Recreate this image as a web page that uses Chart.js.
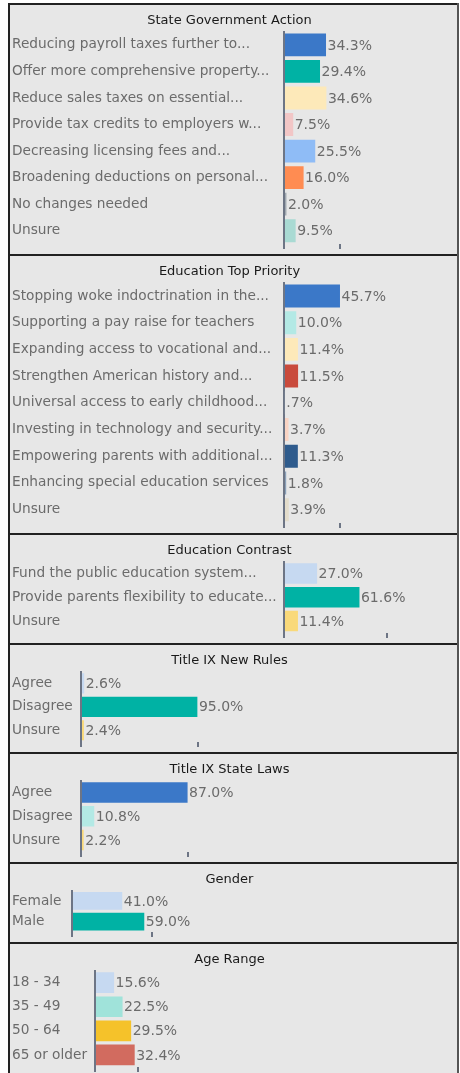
<!DOCTYPE html>
<html>
<head>
<meta charset="utf-8">
<script src="https://cdn.jsdelivr.net/npm/chart.js@4"></script>
<style>
  body { margin: 0; background: #fff; }
  #wrap { position: absolute; left: 8px; top: 3px; width: 447px; border-left: 2px solid #222; border-right: 2px solid #555; }
  .panel { border-top: 2px solid #222; background: #e7e7e7; overflow: hidden; }
  .panel canvas { display: block; }
</style>
</head>
<body>
<div id="wrap">
  <div class="panel" style="height:249px"><canvas id="c1" width="447" height="249"></canvas></div>
  <div class="panel" style="height:277px"><canvas id="c2" width="447" height="277"></canvas></div>
  <div class="panel" style="height:108px"><canvas id="c3" width="447" height="108"></canvas></div>
  <div class="panel" style="height:107px"><canvas id="c4" width="447" height="107"></canvas></div>
  <div class="panel" style="height:108px"><canvas id="c5" width="447" height="108"></canvas></div>
  <div class="panel" style="height:78px"><canvas id="c6" width="447" height="78"></canvas></div>
  <div class="panel" style="height:140px"><canvas id="c7" width="447" height="133"></canvas></div>
</div>
<script>
// data
const stateActionLabels = [
  "Reducing payroll taxes further to...",
  "Offer more comprehensive property...",
  "Reduce sales taxes on essential...",
  "Provide tax credits to employers w...",
  "Decreasing licensing fees and...",
  "Broadening deductions on personal...",
  "No changes needed",
  "Unsure"
];
const stateActionValues = [34.3, 29.4, 34.6, 7.5, 25.5, 16.0, 2.0, 9.5];

const eduPriorityLabels = [
  "Stopping woke indoctrination in the...",
  "Supporting a pay raise for teachers",
  "Expanding access to vocational and...",
  "Strengthen American history and...",
  "Universal access to early childhood...",
  "Investing in technology and security...",
  "Empowering parents with additional...",
  "Enhancing special education services",
  "Unsure"
];
const eduPriorityValues = [45.7, 10.0, 11.4, 11.5, 0.7, 3.7, 11.3, 1.8, 3.9];

const eduContrastLabels = [
  "Fund the public education system...",
  "Provide parents flexibility to educate...",
  "Unsure"
];
const eduContrastValues = [27.0, 61.6, 11.4];

const agreeLabels = ["Agree", "Disagree", "Unsure"];
const titleIxRulesValues = [2.6, 95.0, 2.4];
const titleIxLawsValues = [87.0, 10.8, 2.2];

const genderLabels = ["Female", "Male"];
const genderValues = [41.0, 59.0];

const ageLabels = ["18 - 34", "35 - 49", "50 - 64", "65 or older"];
const ageValues = [15.6, 22.5, 29.5, 32.4];

// the single axis tick shown under each panel
const axisTicks = [45.7, 45.7, 84, 95.5, 87, 65, 35];

const FONT = '"DejaVu Sans", sans-serif';
const PX_PER_PCT = 1.225;
const CANVAS_W = 447;
const PAD_L = 2, PAD_R = 10;

const blue = '#3b78c8', teal = '#00b2a4', paleBlue = '#c6d9f1', yellow = '#f9d97a';

function fmt(v) {
  return v.toFixed(1).replace(/^0\./, '.') + '%';
}

const valueLabels = {
  id: 'valueLabels',
  afterDatasetsDraw(chart) {
    const ctx = chart.ctx;
    const vals = chart.data.datasets[0].data;
    ctx.save();
    ctx.font = '14px ' + FONT;
    ctx.fillStyle = '#6b6b6b';
    ctx.textBaseline = 'middle';
    chart.getDatasetMeta(0).data.forEach((bar, i) => {
      ctx.fillText(fmt(vals[i]), bar.x + 1.5, bar.y + 1);
    });
    ctx.restore();
  }
};

function makeChart(id, title, labels, values, colors, axisW, tickVal) {
  const ctx = document.getElementById(id).getContext('2d');
  const max = (CANVAS_W - PAD_L - PAD_R - axisW) / PX_PER_PCT;
  return new Chart(ctx, {
    type: 'bar',
    data: {
      labels: labels,
      datasets: [{
        data: values,
        backgroundColor: colors,
        barPercentage: 0.86,
        categoryPercentage: 1
      }]
    },
    options: {
      indexAxis: 'y',
      responsive: false,
      animation: false,
      layout: { padding: { left: PAD_L, right: PAD_R, top: 0, bottom: 5 } },
      plugins: {
        legend: { display: false },
        tooltip: { enabled: false },
        title: {
          display: true,
          text: title,
          color: '#1a1a1a',
          font: { family: FONT, size: 13, weight: 'normal' },
          padding: { top: 8, bottom: 3 }
        }
      },
      scales: {
        y: {
          grid: { display: false },
          border: { display: true, color: '#6d7585', width: 2 },
          ticks: { crossAlign: 'far', color: '#6b6b6b', padding: 0, font: { family: FONT, size: 13.7 } },
          afterFit(s) { s.width = axisW; }
        },
        x: {
          min: 0,
          max: max,
          border: { display: false },
          grid: { drawOnChartArea: false, drawTicks: true, tickLength: 5, color: '#6d7585', lineWidth: 2 },
          ticks: { display: false },
          afterBuildTicks(s) { s.ticks = [{ value: 0 }, { value: tickVal }]; }
        }
      }
    },
    plugins: [valueLabels]
  });
}

makeChart('c1', 'State Government Action', stateActionLabels, stateActionValues,
  [blue, teal, '#fde9b9', '#f2c6c6', '#8fbcf6', '#ff8c52', '#a0a8b0', '#a9dad3'], 272, axisTicks[0]);
makeChart('c2', 'Education Top Priority', eduPriorityLabels, eduPriorityValues,
  [blue, '#b3e9e5', '#fde9b9', '#c94a3c', '#9aabbf', '#f9d3c3', '#2e5b8d', '#8aa0b8', '#e3dccb'], 272, axisTicks[1]);
makeChart('c3', 'Education Contrast', eduContrastLabels, eduContrastValues,
  [paleBlue, teal, yellow], 272, axisTicks[2]);
makeChart('c4', 'Title IX New Rules', agreeLabels, titleIxRulesValues,
  [paleBlue, teal, yellow], 69, axisTicks[3]);
makeChart('c5', 'Title IX State Laws', agreeLabels, titleIxLawsValues,
  [blue, '#b3e9e5', yellow], 69, axisTicks[4]);
makeChart('c6', 'Gender', genderLabels, genderValues,
  [paleBlue, teal], 60, axisTicks[5]);
makeChart('c7', 'Age Range', ageLabels, ageValues,
  [paleBlue, '#a0e3da', '#f5c22a', '#d26b5f'], 83, axisTicks[6]);
</script>
</body>
</html>
